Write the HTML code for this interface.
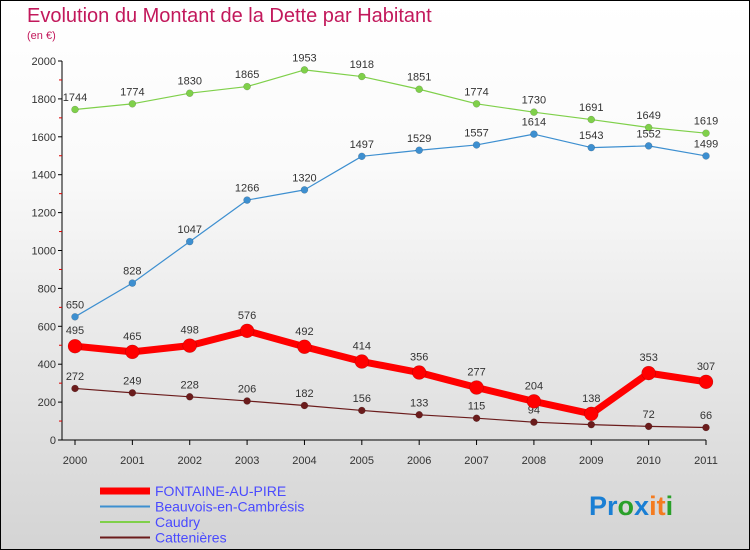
<!DOCTYPE html>
<html><head><meta charset="utf-8"><style>
body{margin:0;width:750px;height:550px;overflow:hidden;font-family:"Liberation Sans",sans-serif}
#c{position:absolute;left:0;top:0;width:748px;height:548px;border:1px solid #000;background:linear-gradient(#fff,#fafafa 30%,#d4d4d4)}
</style></head><body>
<div id="c">
<svg id="s" width="750" height="550" style="position:absolute;left:-1px;top:-1px">
<text x="27" y="22" font-size="20" fill="#c2185b">Evolution du Montant de la Dette par Habitant</text>
<text x="27" y="39" font-size="11" fill="#c2185b">(en €)</text>
<g id="g"></g>
<text x="589" y="515" font-size="27" font-weight="bold"><tspan fill="#1a7fd4">Pr</tspan><tspan fill="#2aa02a">o</tspan><tspan fill="#1a7fd4">x</tspan><tspan fill="#f47b20">it</tspan><tspan fill="#2aa02a">i</tspan></text>
</svg></div>
<script>
const years=[2000,2001,2002,2003,2004,2005,2006,2007,2008,2009,2010,2011];
const yTicks=[0,200,400,600,800,1000,1200,1400,1600,1800,2000];
const fontaine=[495,465,498,576,492,414,356,277,204,138,353,307];
const beauvois=[650,828,1047,1266,1320,1497,1529,1557,1614,1543,1552,1499];
const caudry=[1744,1774,1830,1865,1953,1918,1851,1774,1730,1691,1649,1619];
const catten=[272,249,228,206,182,156,133,115,94,81,72,66];
const NS='http://www.w3.org/2000/svg',g=document.getElementById('g');
const X=i=>75+i*(706-75)/11, Y=v=>440-v*(379/2000);
function el(t,a,p){const e=document.createElementNS(NS,t);for(const k in a)e.setAttribute(k,a[k]);(p||g).appendChild(e);return e;}
let ax=el('line',{x1:62,y1:61,x2:62,y2:440,stroke:'#000'});


let xa=el('line',{x1:62,y1:440,x2:706,y2:440,stroke:'#000'});


for(let v=100;v<2000;v+=200){el('line',{x1:59,x2:62,y1:Y(v),y2:Y(v),stroke:'#d00'});}
yTicks.forEach(v=>{el('line',{x1:58,x2:62,y1:Y(v),y2:Y(v),stroke:'#000'});
const t=el('text',{x:56,y:Y(v)+4,'font-size':11,'text-anchor':'end',fill:'#333'});t.textContent=v;

});
years.forEach((y,i)=>{el('line',{x1:X(i),x2:X(i),y1:440,y2:445,stroke:'#000'});
const t=el('text',{x:X(i),y:464,'font-size':11,'text-anchor':'middle',fill:'#333'});t.textContent=y;

});
function series(d,col,w,r,name){
const pl=el('polyline',{points:d.map((v,i)=>X(i)+','+Y(v)).join(' '),fill:'none',stroke:col,'stroke-width':w,'stroke-linejoin':'round'});


d.forEach((v,i)=>{const c=el('circle',{cx:X(i),cy:Y(v),r:r,fill:col,stroke:'rgba(0,0,0,0.25)','stroke-width':0.5});


const t=el('text',{x:X(i),y:Y(v)-r-5,'font-size':11,'text-anchor':'middle',fill:'#333'});t.textContent=v;

});}
series(catten,'#6b1c1c',1.2,3.5,'cattenieres');
series(caudry,'#7fd04a',1.2,3.5,'caudry');
series(beauvois,'#3d8fd0',1.2,3.5,'beauvois');
series(fontaine,'#f00',7,7,'fontaine');
const leg=[['FONTAINE-AU-PIRE','#f00',7],['Beauvois-en-Cambrésis','#3d8fd0',2],['Caudry','#7fd04a',2],['Cattenières','#6b1c1c',2]];
leg.forEach((l,i)=>{const y=491+i*15.5;
const ln=el('line',{x1:100,x2:150,y1:y,y2:y,stroke:l[1],'stroke-width':l[2]});


const t=el('text',{x:155,y:y+5,'font-size':14,fill:'#4a4aff'});t.textContent=l[0];

});
</script>
</body></html>
